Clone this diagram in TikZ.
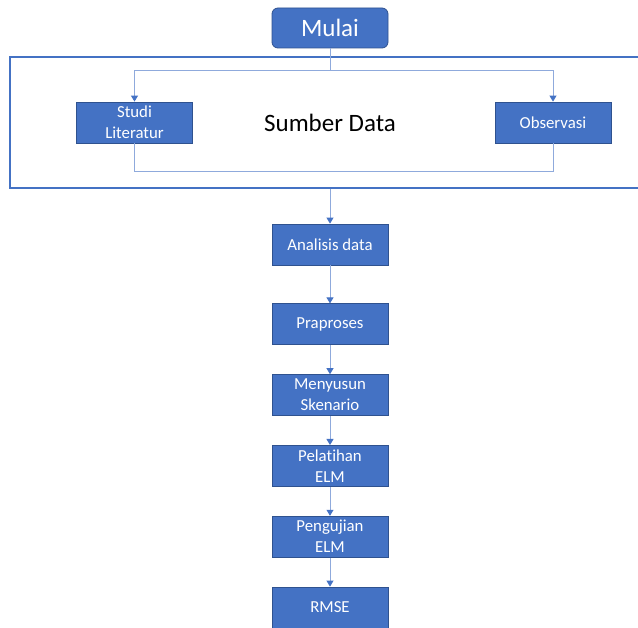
\documentclass[tikz,border=0pt]{standalone}
\usepackage{fontspec}
\setmainfont{Carlito}[Ligatures=NoCommon]
\usetikzlibrary{positioning,arrows.meta}
\definecolor{kotakbiru}{HTML}{4472C4}
\definecolor{tepibiru}{HTML}{2F528F}
\definecolor{garisbiru}{HTML}{8FAADC}

\begin{document}
\begin{tikzpicture}[
    x=1pt, y=-1pt,
    node distance=29pt,
    proses/.style={
        rectangle,
        draw=tepibiru,
        fill=kotakbiru,
        line width=0.8pt,
        minimum width=116pt,
        minimum height=41pt,
        align=center,
        text=white,
        inner sep=2pt,
        font=\fontsize{16.8}{21}\selectfont
    },
    mulaibox/.style={
        proses,
        rounded corners=6pt,
        minimum height=40pt,
        font=\fontsize{25}{30}\selectfont
    },
    bingkai/.style={
        rectangle,
        draw=kotakbiru,
        line width=1.2pt,
        minimum width=640pt,
        minimum height=131pt,
        font=\fontsize{25}{30}\selectfont
    },
    garis/.style={
        draw=garisbiru,
        line width=0.9pt
    },
    arrow/.style={
        garis,
        -{Triangle[width=7pt,length=6pt,color=kotakbiru]}
    }
]
\useasboundingbox (0,0) rectangle (638,628);

% Mulai dan sumber data
\node[mulaibox] (mulai) at (330,28) {Mulai};
\node[bingkai, below=8pt of mulai] (sumber) {Sumber Data};
\node[proses, xshift=-195.5pt] (studi) at (sumber) {Studi\\Literatur};
\node[proses, xshift=223pt] (observasi) at (sumber) {Observasi};

% Tahapan
\node[proses, below=35pt of sumber] (analisis) {Analisis data};
\node[proses, below=38pt of analisis] (praproses) {Praproses};
\node[proses, below=of praproses] (skenario) {Menyusun\\Skenario};
\node[proses, below=of skenario] (pelatihan) {Pelatihan\\ELM};
\node[proses, below=of pelatihan] (pengujian) {Pengujian\\ELM};
\node[proses, below=of pengujian] (rmse) {RMSE};

% Garis dan panah
\coordinate[below=22pt of mulai] (cabang);
\draw[garis] (mulai) -- (cabang);
\draw[arrow] (cabang) -| (studi);
\draw[arrow] (cabang) -| (observasi);
\draw[garis] (studi.south) -- ++(0,28) -| (observasi);
\draw[arrow] (sumber) -- (analisis);
\draw[arrow] (analisis) -- (praproses);
\draw[arrow] (praproses) -- (skenario);
\draw[arrow] (skenario) -- (pelatihan);
\draw[arrow] (pelatihan) -- (pengujian);
\draw[arrow] (pengujian) -- (rmse);

\end{tikzpicture}
\end{document}
